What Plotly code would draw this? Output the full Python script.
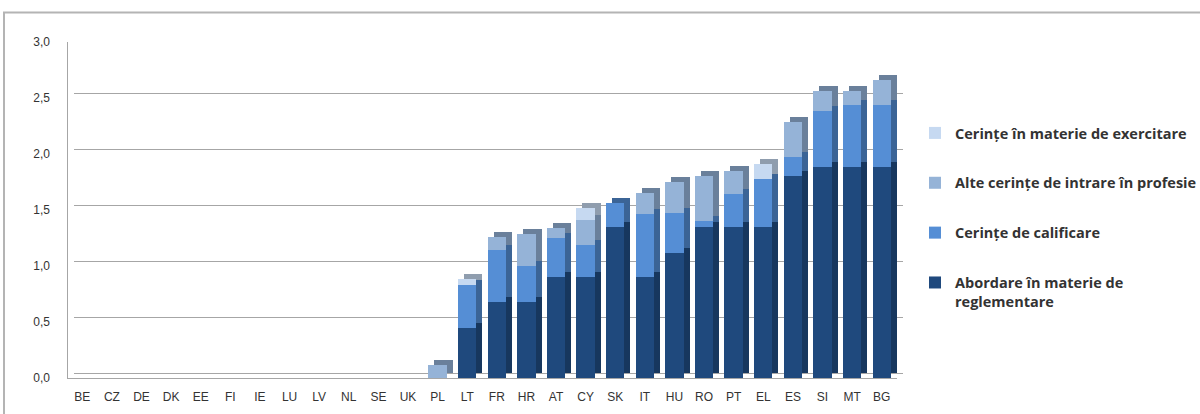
import plotly.graph_objects as go

# ---------------- data ----------------
categories = ["BE", "CZ", "DE", "DK", "EE", "FI", "IE", "LU", "LV", "NL", "SE", "UK",
              "PL", "LT", "FR", "HR", "AT", "CY", "SK", "IT", "HU", "RO", "PT", "EL",
              "ES", "SI", "MT", "BG"]

abordare = [0, 0, 0, 0, 0, 0, 0, 0, 0, 0, 0, 0,
            0, 0.45, 0.68, 0.68, 0.90, 0.90, 1.35, 0.90, 1.12, 1.35, 1.35, 1.35,
            1.80, 1.88, 1.88, 1.88]
calificare = [0, 0, 0, 0, 0, 0, 0, 0, 0, 0, 0, 0,
              0, 0.38, 0.46, 0.32, 0.35, 0.29, 0.21, 0.56, 0.35, 0.05, 0.29, 0.43,
              0.17, 0.50, 0.56, 0.56]
alte = [0, 0, 0, 0, 0, 0, 0, 0, 0, 0, 0, 0,
        0.12, 0, 0.12, 0.29, 0.09, 0.22, 0, 0.19, 0.28, 0.40, 0.21, 0,
        0.32, 0.18, 0.12, 0.22]
exercitare = [0, 0, 0, 0, 0, 0, 0, 0, 0, 0, 0, 0,
              0, 0.05, 0, 0, 0, 0.11, 0, 0, 0, 0, 0, 0.13,
              0, 0, 0, 0]

series_names = ["Abordare în materie de<br>reglementare",
                "Cerințe de calificare",
                "Alte cerințe de intrare în profesie",
                "Cerințe în materie de exercitare"]
series_values = [abordare, calificare, alte, exercitare]
front_colors = ["#1F497D", "#558ED5", "#95B3D7", "#C6D9F1"]
side_colors = ["#17375E", "#3B6496", "#6A809B", "#8F9DAE"]
legend_ranks = [4, 3, 2, 1]

# ---------------- geometry (pixels) ----------------
W, H = 1200, 414
fx0, fx1 = 67.5, 896.5      # front plane x extent
fy0, fy3 = 378, 42          # front plane y for 0 and 3.0
dx, dy = 6, 5               # depth offset
bar_w = 0.62

fig = go.Figure()

# depth (side/top faces) on back axes
for name, vals, col in zip(series_names, series_values, side_colors):
    fig.add_trace(go.Bar(x=categories, y=vals, xaxis="x", yaxis="y",
                         marker=dict(color=col, line=dict(width=0)),
                         width=bar_w, showlegend=False, hoverinfo="skip"))

# front faces
for i, (name, vals, col) in enumerate(zip(series_names, series_values, front_colors)):
    fig.add_trace(go.Bar(x=categories, y=vals, xaxis="x2", yaxis="y2",
                         name="<b>" + name + "</b>",
                         marker=dict(color=col, line=dict(width=0)),
                         width=bar_w, legendgroup="g%d" % legend_ranks[i],
                         legendrank=legend_ranks[i]))

grid_col = "#A6A6A6"
font_col = "#333333"

fig.update_layout(
    width=W, height=H,
    margin=dict(l=0, r=0, t=0, b=0, pad=0, autoexpand=False),
    paper_bgcolor="white",
    plot_bgcolor="rgba(0,0,0,0)",
    barmode="stack",
    separators=",.",
    font=dict(family="Liberation Sans, Arial, sans-serif", size=12, color=font_col),
    xaxis=dict(domain=[(fx0 + dx) / W, (fx1 + dx) / W], anchor="y",
               range=[-0.5, len(categories) - 0.5], showticklabels=False,
               showgrid=False, zeroline=False, showline=True, automargin=False,
               linecolor=grid_col, linewidth=1, ticks=""),
    yaxis=dict(domain=[(H - (fy0 - dy)) / H, (H - (fy3 - dy)) / H], anchor="x",
               range=[0, 3], dtick=0.5, showticklabels=False, automargin=False,
               showgrid=True, gridcolor=grid_col, gridwidth=1.3,
               zeroline=False, showline=False, ticks=""),
    xaxis2=dict(domain=[fx0 / W, fx1 / W], anchor="y2",
                range=[-0.5, len(categories) - 0.5], automargin=False,
                showgrid=False, zeroline=False, showline=True,
                linecolor=grid_col, linewidth=1.3, ticks="",
                tickfont=dict(size=12, color=font_col), ticklabelstandoff=7),
    yaxis2=dict(domain=[(H - fy0) / H, (H - fy3) / H], anchor="x2",
                range=[0, 3], dtick=0.5, tickformat=".1f", automargin=False,
                showgrid=False, zeroline=False, showline=True,
                linecolor=grid_col, linewidth=1.3, ticks="",
                tickfont=dict(size=12, color=font_col), ticklabelstandoff=14),
    legend=dict(x=915 / W, y=1 - 117 / H, xanchor="left", yanchor="top",
                traceorder="grouped", tracegroupgap=28,
                valign="top", itemwidth=30,
                font=dict(family="Open Sans, Liberation Sans, sans-serif", size=14.5,
                          color=font_col),
                bgcolor="rgba(0,0,0,0)"),
    shapes=[dict(type="rect", xref="paper", yref="paper",
                 x0=4 / W, x1=1.05, y0=-0.05, y1=1 - 12.5 / H,
                 line=dict(color="#B4B4B4", width=2), fillcolor="rgba(0,0,0,0)",
                 layer="below")],
)

fig.write_html("out.html")
